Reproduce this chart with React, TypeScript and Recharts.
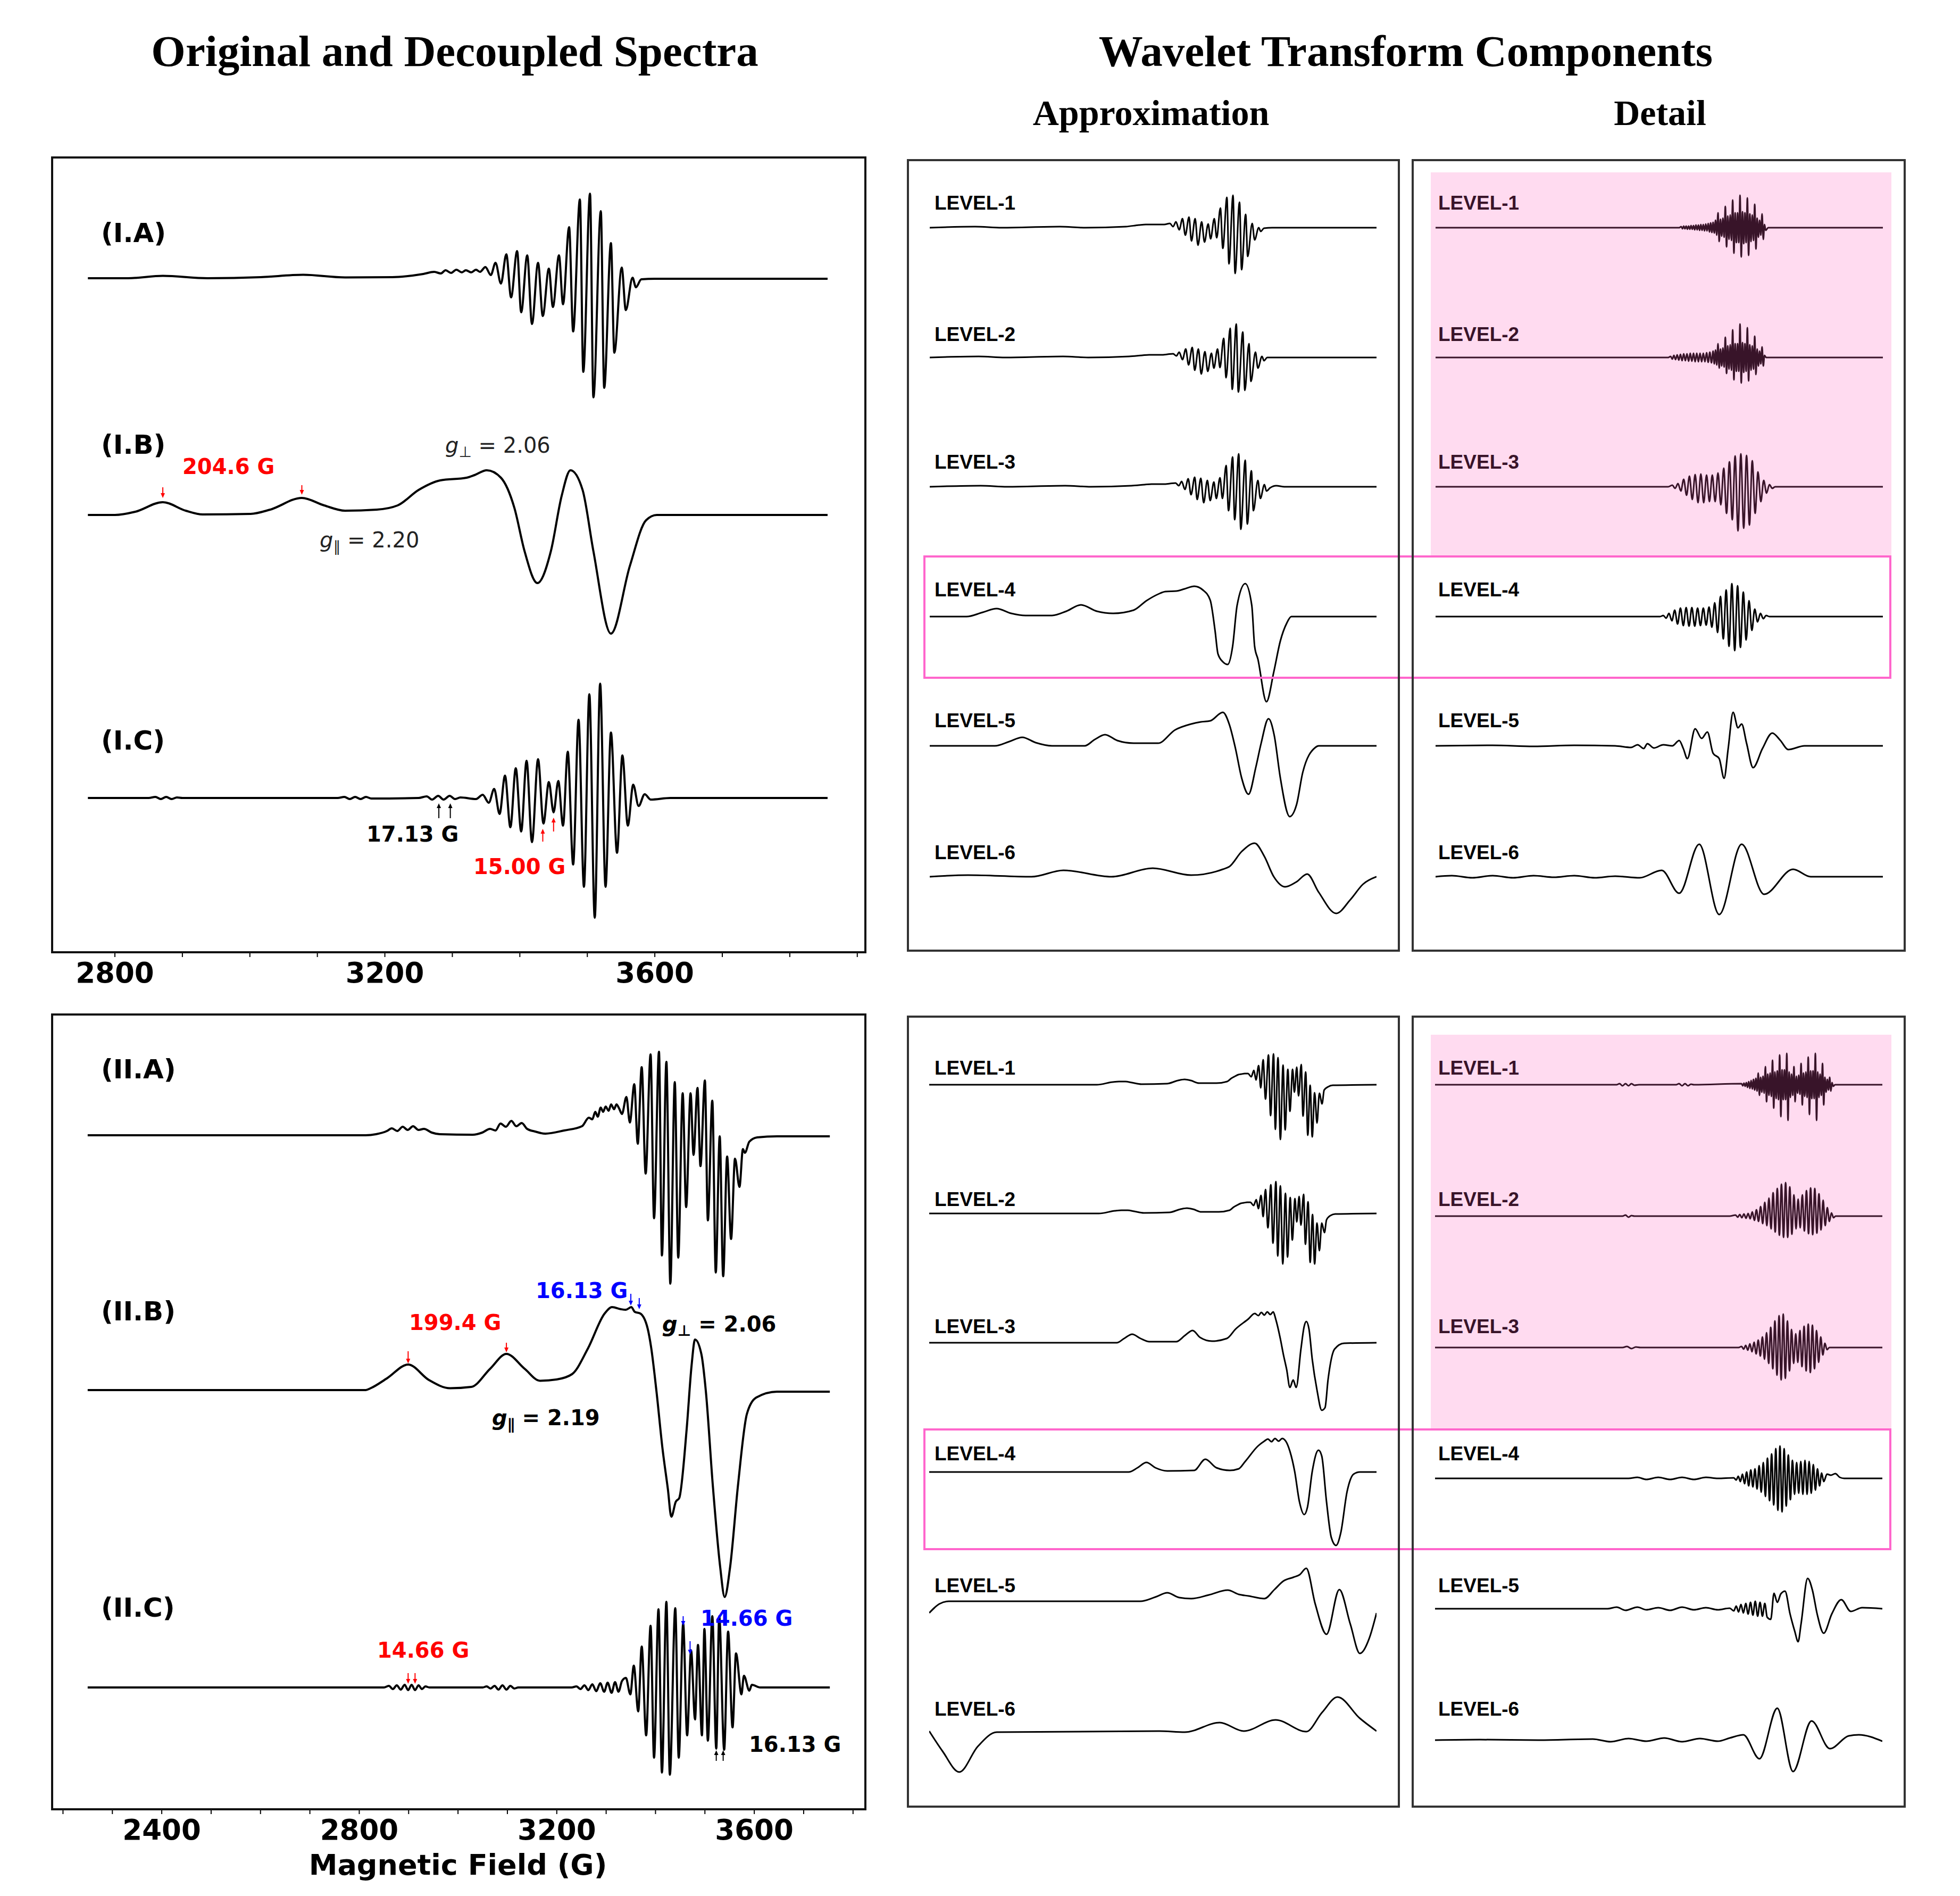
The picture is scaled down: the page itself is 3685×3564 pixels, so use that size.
import React from 'react'
import { LineChart, Line, XAxis, YAxis, ReferenceDot } from 'recharts'

// magnetic field (G): axis ranges and the span covered by the data
const FIELD_I: [number, number] = [2707, 3912]
const FIELD_II: [number, number] = [2178, 3825]
const SPAN_I: [number, number] = [2760, 3856]
const SPAN_II: [number, number] = [2250, 3753]
const TICKS_I = [2800, 2900, 3000, 3100, 3200, 3300, 3400, 3500, 3600, 3700, 3800, 3900]
const TICKS_II = [2200, 2300, 2400, 2500, 2600, 2700, 2800, 2900, 3000, 3100, 3200, 3300, 3400, 3500, 3600, 3700, 3800]
const LEVELS = ['LEVEL-1', 'LEVEL-2', 'LEVEL-3', 'LEVEL-4', 'LEVEL-5', 'LEVEL-6']

// spectra, pairs of [field G, intensity a.u.]
const spectrumIA = [2760,0, 2820,0, 2871,4.5, 2937,0, 3016,2, 3079,6.5, 3141,1.5, 3211,2, 3241,5, 3257,8, 3273,12, 3283,9, 3290,15, 3298,10, 3306,16, 3314,11, 3320,15, 3328,11, 3335,16, 3341,12, 3349,21, 3357,6, 3364,29, 3372,-10, 3380,45, 3387,-36, 3396,51, 3402,-64, 3411,43, 3418,-86, 3427,29, 3434,-71, 3443,18, 3449,-54, 3458,43, 3464,-49, 3473,96, 3479,-100, 3489,148, 3494,-176, 3504,159, 3509,-224, 3520,126, 3525,-206, 3535,66, 3540,-140, 3551,20, 3557,-60, 3567,1, 3572,-17, 3580,-2, 3600,-1, 3856,-1]
const spectrumIB = [2760,0, 2800,0, 2830,6, 2871,24, 2905,8, 2930,1, 3001,2, 3030,10, 3077,32, 3110,18, 3141,8, 3188,10, 3219,18, 3250,47, 3282,65, 3321,70, 3333,75, 3351,84, 3372,70, 3392,13, 3407,-68, 3426,-128, 3446,-68, 3462,36, 3475,84, 3493,47, 3509,-68, 3535,-223, 3563,-96, 3587,-10, 3603,0, 3856,0]
const spectrumIC = [2760,0, 2850,0, 2860,2, 2868,-2, 2876,2, 2884,-2, 2892,1, 2900,0, 3130,0, 3140,2, 3148,-2, 3156,2, 3164,-2, 3172,2, 3180,-1, 3250,0, 3262,3, 3270,-3, 3279,4, 3287,-3, 3296,4, 3304,-2, 3312,1, 3335,-2, 3345,6, 3354,-9, 3362,17, 3370,-30, 3378,42, 3386,-55, 3394,56, 3402,-63, 3410,70, 3418,-83, 3427,73, 3435,-48, 3443,30, 3450,-27, 3457,32, 3464,-52, 3471,87, 3479,-125, 3487,147, 3495,-167, 3503,195, 3511,-225, 3519,215, 3527,-167, 3535,123, 3544,-103, 3552,80, 3560,-52, 3568,25, 3576,-15, 3585,7, 3594,-3, 3623,0, 3856,0]
const spectrumIIA = [2250,0, 2813,0, 2834,2, 2856,8, 2866,13, 2877,8, 2888,16, 2898,10, 2909,17, 2920,10, 2931,12, 2947,5, 2963,2, 3030,1, 3049,5, 3065,12, 3076,9, 3086,22, 3097,16, 3108,27, 3118,17, 3129,23, 3140,12, 3156,7, 3177,3, 3215,9, 3251,17, 3265,33, 3272,30, 3278,44, 3283,35, 3289,52, 3294,44, 3299,54, 3305,46, 3310,58, 3316,49, 3321,58, 3326,51, 3332,40, 3341,72, 3348,24, 3357,96, 3364,-16, 3372,128, 3380,-72, 3390,152, 3397,-156, 3407,157, 3413,-226, 3422,138, 3430,-279, 3439,100, 3446,-230, 3455,79, 3462,-135, 3471,79, 3477,-37, 3485,89, 3491,-58, 3500,103, 3506,-160, 3515,65, 3522,-258, 3530,-2, 3537,-265, 3545,-40, 3553,-195, 3561,-44, 3570,-97, 3577,-26, 3581,-33, 3590,-12, 3606,-4, 3646,-2, 3753,-2]
const spectrumIIB = [2250,0, 2813,0, 2823,3.5, 2856,22, 2899,48, 2941,19, 2984,3.5, 3027,6, 3065,40, 3098,68, 3135,40, 3166,17.5, 3200,20, 3231,30, 3263,78, 3297,144, 3312,156, 3330,152, 3340,151, 3351,156, 3358,147, 3369,144, 3384,116, 3391,81, 3402,-3, 3414,-109, 3425,-186, 3432,-238, 3441,-210, 3448,-203, 3463,-74, 3473,46, 3480,95, 3493,67, 3502,-3, 3516,-179, 3531,-333, 3540,-389, 3551,-333, 3567,-179, 3585,-45, 3604,-14, 3646,-3, 3753,-3]
const spectrumIIC = [2250,0, 2850,0, 2860,3, 2868,-3, 2876,4, 2884,-4, 2892,5, 2899,-5, 2906,5, 2913,-5, 2920,4, 2927,-3, 2934,2, 2942,0, 3050,0, 3058,2, 3066,-2, 3074,3, 3082,-4, 3090,4, 3098,-4, 3106,3, 3114,-2, 3122,0, 3230,0, 3240,2, 3248,-3, 3256,4, 3264,-5, 3272,6, 3280,-7, 3288,8, 3296,-8, 3303,9, 3311,-10, 3318,10, 3325,-8, 3332,12, 3340,18, 3349,-13, 3356,41, 3365,-45, 3372,77, 3381,-90, 3390,116, 3397,-132, 3406,147, 3413,-160, 3422,161, 3429,-164, 3440,149, 3447,-132, 3456,120, 3464,-90, 3472,70, 3480,-60, 3486,80, 3494,-90, 3499,110, 3506,-100, 3515,134, 3523,-115, 3529,134, 3539,-117, 3547,105, 3556,-75, 3563,64, 3574,-13, 3579,22, 3590,-6, 3595,5, 3612,0, 3753,0]

// wavelet approximations, sample I
const approxI1 = [2760,0, 2871,2, 2937,0, 3079,2, 3141,0, 3241,2, 3273,5, 3290,6, 3306,6, 3320,6, 3335,6, 3349,8, 3357,2, 3364,11, 3372,-4, 3380,17, 3387,-14, 3396,20, 3402,-25, 3411,17, 3418,-33, 3427,11, 3434,-27, 3443,7, 3449,-21, 3458,17, 3464,-19, 3473,37, 3479,-39, 3489,57, 3494,-68, 3504,61, 3509,-86, 3520,48, 3525,-79, 3535,25, 3540,-54, 3551,8, 3557,-23, 3567,0, 3572,-7, 3580,-1, 3600,0, 3856,0]
const approxI2 = [2760,0, 2880,2, 2945,0, 3087,2, 3149,0, 3249,2, 3281,4, 3298,5, 3314,5, 3328,5, 3343,6, 3357,7, 3365,3, 3372,10, 3380,-4, 3388,16, 3395,-14, 3404,19, 3410,-24, 3419,16, 3426,-31, 3435,11, 3442,-26, 3451,8, 3457,-20, 3466,16, 3472,-19, 3481,36, 3487,-38, 3497,55, 3502,-60, 3512,63, 3517,-65, 3528,48, 3533,-62, 3543,26, 3548,-45, 3559,10, 3565,-20, 3575,2, 3580,-6, 3588,0, 3610,0, 3856,0]
const approxI3 = [2760,0, 2885,2, 2950,0, 3092,2, 3155,0, 3255,2, 3287,4, 3304,5, 3320,5, 3334,5, 3349,6, 3363,7, 3371,2, 3378,10, 3386,-5, 3394,15, 3401,-15, 3410,18, 3416,-24, 3425,16, 3432,-30, 3441,12, 3448,-26, 3457,9, 3463,-22, 3472,17, 3478,-22, 3487,40, 3493,-45, 3503,56, 3508,-62, 3518,62, 3523,-80, 3534,50, 3539,-70, 3549,30, 3554,-45, 3565,12, 3571,-22, 3581,4, 3586,-8, 3595,-2, 3610,2, 3630,0, 3856,0]
const approxI4 = [2760,0, 2850,0, 2890,8, 2924,15, 2960,6, 2995,2, 3060,2, 3095,10, 3131,22, 3170,10, 3210,6, 3260,12, 3292,30, 3320,42, 3338,47, 3365,48, 3385,52, 3409,57, 3430,50, 3448,31, 3460,-27, 3467,-70, 3479,-85, 3491,-90, 3503,-56, 3514,21, 3534,62, 3550,21, 3557,-56, 3565,-80, 3586,-160, 3604,-104, 3620,-46, 3636,-12, 3647,0, 3856,0]
const approxI5 = [2760,0, 2920,0, 2955,8, 2987,16, 3020,6, 3060,0, 3140,0, 3165,12, 3190,21, 3220,10, 3260,5, 3320,5, 3362,30, 3401,41, 3425,45, 3448,47, 3479,63, 3495,40, 3510,-5, 3525,-60, 3542,-91, 3560,-40, 3573,5, 3591,51, 3605,20, 3620,-60, 3643,-133, 3660,-110, 3675,-50, 3706,-3, 3714,0, 3856,0]
const approxI6 = [2760,0, 2854,3, 3010,0, 3088,12, 3206,0, 3307,16, 3401,3, 3479,14, 3495,19, 3526,48, 3557,63, 3581,38, 3604,0, 3632,-19, 3659,-10, 3686,5, 3714,-29, 3757,-69, 3792,-43, 3823,-14, 3856,0]

// wavelet details, sample I
const detailI1 = [2760,0, 3357,0, 3362,2, 3365,-2, 3368,3, 3371,-2, 3374,3, 3377,-3, 3380,3, 3383,-3, 3386,4, 3389,-3, 3392,4, 3395,-4, 3398,5, 3401,-4, 3404,5, 3407,-5, 3410,6, 3413,-5, 3416,6, 3419,-6, 3422,7, 3425,-6, 3428,8, 3431,-8, 3434,9, 3437,-9, 3440,10, 3443,-10, 3446,14, 3449,-14, 3452,28, 3455,-26, 3458,16, 3461,-16, 3464,18, 3467,-18, 3470,40, 3473,-36, 3476,22, 3479,-22, 3482,24, 3485,-24, 3488,52, 3491,-48, 3494,28, 3497,-28, 3500,28, 3503,-28, 3506,61, 3509,-55, 3512,30, 3515,-30, 3518,28, 3521,-28, 3524,56, 3527,-52, 3530,26, 3533,-26, 3536,24, 3539,-24, 3542,44, 3545,-40, 3548,18, 3551,-18, 3554,14, 3557,-14, 3560,26, 3563,-22, 3566,6, 3569,-5, 3575,0, 3856,0]
const detailI2 = [2760,0, 3330,0, 3336,2, 3340,-3, 3344,4, 3348,-4, 3352,5, 3356,-5, 3360,6, 3364,-6, 3368,7, 3372,-6, 3376,7, 3380,-7, 3384,8, 3388,-7, 3392,8, 3396,-8, 3400,8, 3404,-8, 3408,8, 3412,-8, 3416,8, 3420,-8, 3424,9, 3428,-9, 3432,10, 3436,-10, 3440,12, 3443,-12, 3446,14, 3449,-14, 3452,26, 3455,-20, 3458,16, 3461,-16, 3464,18, 3467,-18, 3470,38, 3473,-30, 3476,22, 3479,-22, 3482,24, 3485,-24, 3488,52, 3491,-42, 3494,26, 3497,-26, 3500,26, 3503,-26, 3506,63, 3509,-48, 3512,28, 3515,-28, 3518,26, 3521,-26, 3524,56, 3527,-44, 3530,24, 3533,-24, 3536,22, 3539,-22, 3542,40, 3545,-32, 3548,16, 3551,-16, 3554,12, 3557,-12, 3560,20, 3563,-16, 3566,4, 3570,0, 3856,0]
const detailI3 = [2760,0, 3330,0, 3340,3, 3347,-3, 3354,6, 3361,-8, 3368,14, 3375,-16, 3382,20, 3389,-24, 3396,23, 3403,-30, 3410,24, 3417,-30, 3424,22, 3431,-28, 3438,22, 3445,-28, 3452,26, 3459,-34, 3466,35, 3473,-50, 3480,47, 3487,-62, 3494,58, 3501,-83, 3508,62, 3515,-78, 3522,59, 3529,-72, 3536,49, 3543,-50, 3550,28, 3557,-28, 3564,12, 3571,-12, 3578,4, 3585,-3, 3592,0, 3856,0]
const detailI4 = [2760,0, 3310,0, 3318,2, 3325,-3, 3332,6, 3339,-8, 3346,12, 3353,-14, 3360,16, 3367,-17, 3374,17, 3381,-18, 3388,17, 3395,-18, 3402,16, 3409,-17, 3416,16, 3423,-16, 3430,18, 3437,-20, 3444,26, 3451,-30, 3458,38, 3465,-42, 3472,50, 3479,-56, 3486,62, 3493,-64, 3500,58, 3507,-58, 3514,46, 3521,-44, 3528,30, 3535,-26, 3542,14, 3549,-10, 3556,6, 3563,-4, 3570,2, 3578,0, 3856,0]
const detailI5 = [2760,0, 2900,1, 3000,-1, 3100,1, 3200,0, 3239,-3, 3255,2, 3270,-5, 3279,4, 3295,-4, 3318,2, 3340,0, 3357,10, 3367,-5, 3377,-24, 3396,32, 3412,14, 3426,26, 3440,-14, 3455,-24, 3467,-61, 3477,-5, 3489,63, 3501,34, 3510,41, 3522,5, 3538,-41, 3561,-5, 3585,24, 3605,10, 3624,-7, 3664,0, 3856,0]
const detailI6 = [2760,0, 2800,2, 2850,-2, 2900,2, 2950,-2, 3000,2, 3050,-1, 3100,2, 3150,-2, 3200,1, 3260,-2, 3314,12, 3357,-31, 3406,61, 3455,-71, 3510,61, 3565,-33, 3636,14, 3679,0, 3856,0]

// wavelet approximations, sample II
const approxII1 = [2250,0, 2813,0, 2866,5, 2888,6, 2909,6, 2931,4, 2963,1, 3049,2, 3086,8, 3108,10, 3129,8, 3156,3, 3215,3, 3251,6, 3265,12, 3278,16, 3289,19, 3299,20, 3310,21, 3321,21, 3332,15, 3341,27, 3348,9, 3357,36, 3364,-6, 3372,47, 3380,-27, 3390,56, 3397,-58, 3407,58, 3413,-84, 3422,51, 3430,-103, 3439,37, 3446,-85, 3455,29, 3462,-50, 3471,29, 3477,-14, 3485,33, 3491,-21, 3500,38, 3506,-59, 3515,24, 3522,-95, 3530,-1, 3537,-98, 3545,-15, 3553,-72, 3561,-16, 3570,-36, 3577,-10, 3590,-4, 3606,-1, 3753,0]
const approxII2 = [2250,0, 2820,0, 2874,5, 2896,6, 2917,6, 2939,4, 2971,1, 3057,2, 3094,8, 3116,10, 3137,8, 3164,3, 3223,3, 3259,6, 3273,12, 3286,16, 3297,19, 3307,20, 3318,21, 3329,21, 3340,15, 3349,26, 3356,9, 3365,34, 3372,-6, 3380,45, 3388,-27, 3398,54, 3405,-56, 3415,60, 3421,-80, 3430,52, 3438,-95, 3447,38, 3454,-82, 3463,30, 3470,-50, 3479,28, 3485,-16, 3493,32, 3499,-22, 3508,36, 3514,-58, 3523,22, 3530,-92, 3538,-2, 3545,-95, 3553,-18, 3561,-70, 3569,-18, 3578,-36, 3585,-12, 3598,-4, 3614,-1, 3753,0]
const approxII3 = [2250,0, 2880,0, 2905,8, 2932,16, 2960,8, 2990,2, 3080,2, 3110,14, 3135,23, 3160,10, 3200,3, 3250,8, 3280,26, 3323,45, 3344,55, 3356,51, 3366,57, 3376,52, 3386,58, 3396,53, 3406,58, 3414,45, 3430,7, 3440,-22, 3451,-50, 3462,-84, 3473,-70, 3483,-84, 3499,-12, 3510,31, 3517,40, 3526,26, 3537,-31, 3553,-89, 3569,-127, 3580,-122, 3590,-70, 3612,-12, 3644,-1, 3753,0]
const approxII4 = [2250,0, 2920,0, 2950,8, 2980,18, 3010,8, 3050,2, 3140,3, 3178,24, 3215,8, 3260,3, 3290,6, 3312,20, 3355,49, 3376,58, 3388,62, 3400,57, 3412,63, 3424,58, 3436,63, 3448,58, 3462,39, 3478,1, 3494,-56, 3510,-80, 3521,-66, 3537,1, 3558,41, 3569,30, 3585,-56, 3601,-123, 3617,-138, 3633,-114, 3654,-37, 3676,-4, 3697,0, 3753,0]
const approxII5 = [2250,-22, 2268,-12, 2284,-5, 2316,0, 2959,0, 3010,8, 3050,16, 3090,7, 3130,5, 3190,12, 3253,21, 3290,13, 3323,10, 3376,5, 3410,22, 3440,38, 3473,45, 3495,50, 3517,62, 3547,-5, 3585,-62, 3628,22, 3665,-43, 3697,-98, 3729,-69, 3753,-22]
const approxII6 = [2250,0, 2295,-38, 2351,-77, 2413,-29, 2477,-2, 3023,0, 3109,-2, 3226,16, 3307,0, 3414,21, 3517,-1, 3570,35, 3622,64, 3697,24, 3753,0]

// wavelet details, sample II
const detailII1 = [2250,0, 2860,0, 2870,2, 2880,-2, 2890,2, 2900,-2, 2910,2, 2920,-1, 2935,0, 3060,0, 3070,2, 3080,-2, 3090,2, 3100,-2, 3110,1, 3120,0, 3280,2, 3284,-2, 3288,3, 3292,-3, 3296,4, 3300,-5, 3304,6, 3308,-7, 3312,8, 3316,-8, 3320,10, 3324,-10, 3328,12, 3332,-12, 3336,22, 3340,-20, 3344,14, 3348,-14, 3352,16, 3356,-16, 3360,34, 3364,-32, 3368,20, 3372,-20, 3376,22, 3380,-22, 3384,46, 3388,-44, 3392,24, 3396,-26, 3400,26, 3404,-28, 3408,56, 3412,-60, 3416,28, 3420,-28, 3424,28, 3428,-28, 3432,59, 3436,-67, 3440,24, 3444,-24, 3448,20, 3452,-20, 3456,34, 3460,-32, 3464,16, 3468,-16, 3472,18, 3476,-18, 3480,40, 3484,-38, 3488,22, 3492,-22, 3496,24, 3500,-24, 3504,52, 3508,-56, 3512,26, 3516,-26, 3520,26, 3524,-26, 3528,59, 3532,-67, 3536,24, 3540,-24, 3544,20, 3548,-20, 3552,40, 3556,-38, 3560,14, 3564,-14, 3568,10, 3572,-10, 3576,14, 3580,-12, 3584,4, 3588,-3, 3594,0, 3753,0]
const detailII2 = [2250,0, 2880,0, 2890,2, 2900,-2, 2910,1, 2920,0, 3240,0, 3260,2, 3267,-2, 3274,3, 3281,-3, 3288,4, 3295,-4, 3302,5, 3309,-5, 3316,8, 3323,-8, 3330,12, 3337,-10, 3344,18, 3351,-14, 3358,26, 3365,-18, 3372,34, 3379,-24, 3386,44, 3393,-30, 3400,52, 3407,-36, 3414,60, 3421,-40, 3428,63, 3435,-40, 3442,55, 3449,-34, 3456,40, 3463,-24, 3470,32, 3477,-22, 3484,40, 3491,-28, 3498,48, 3505,-33, 3512,53, 3519,-35, 3526,52, 3533,-32, 3540,42, 3547,-26, 3554,30, 3561,-18, 3568,16, 3575,-10, 3582,6, 3589,-3, 3596,0, 3753,0]
const detailII3 = [2250,0, 2880,0, 2895,2, 2910,-2, 2925,1, 2940,0, 3270,0, 3280,2, 3287,-3, 3294,4, 3301,-5, 3308,7, 3315,-8, 3322,10, 3329,-12, 3336,14, 3343,-16, 3350,20, 3357,-22, 3364,28, 3371,-30, 3378,38, 3385,-40, 3392,50, 3399,-52, 3406,60, 3413,-61, 3420,63, 3427,-58, 3434,50, 3441,-44, 3448,34, 3455,-30, 3462,26, 3469,-28, 3476,32, 3483,-36, 3490,40, 3497,-44, 3504,44, 3511,-47, 3518,42, 3525,-40, 3532,32, 3539,-28, 3546,20, 3553,-14, 3560,8, 3567,-4, 3575,0, 3753,0]
const detailII4 = [2250,0, 2900,0, 2930,2, 2960,-2, 3000,2, 3040,-2, 3080,2, 3120,-2, 3160,2, 3200,0, 3254,1, 3262,-3, 3269,4, 3276,-6, 3283,8, 3290,-10, 3297,12, 3304,-14, 3311,16, 3318,-16, 3325,18, 3332,-20, 3339,24, 3346,-26, 3353,30, 3360,-34, 3367,38, 3374,-42, 3381,46, 3388,-50, 3395,56, 3402,-60, 3409,61, 3416,-63, 3423,56, 3430,-52, 3437,44, 3444,-40, 3451,34, 3458,-30, 3465,30, 3472,-28, 3479,32, 3486,-30, 3493,34, 3500,-30, 3507,32, 3514,-28, 3521,26, 3528,-22, 3535,18, 3542,-14, 3549,10, 3556,-6, 3567,8, 3580,6, 3595,9, 3610,2, 3625,0, 3753,0]
const detailII5 = [2250,0, 2830,0, 2860,3, 2890,-3, 2930,3, 2960,-2, 3000,2, 3040,-3, 3080,3, 3120,-2, 3160,2, 3200,-2, 3240,1, 3254,-4, 3262,5, 3270,-6, 3278,8, 3286,-8, 3294,10, 3302,-10, 3310,12, 3318,-12, 3326,14, 3334,-14, 3342,12, 3350,-14, 3358,10, 3366,-16, 3378,-20, 3389,29, 3400,12, 3412,28, 3426,33, 3443,-10, 3459,-43, 3470,-62, 3480,-28, 3502,57, 3518,35, 3534,-10, 3556,-46, 3583,-10, 3615,17, 3647,-5, 3685,2, 3753,0]
const detailII6 = [2250,0, 2400,1, 2600,0, 2780,2, 2840,-3, 2900,3, 2960,-2, 3020,4, 3080,-3, 3140,3, 3200,-2, 3240,4, 3286,10, 3340,-35, 3400,60, 3453,-59, 3515,36, 3577,-16, 3640,8, 3674,10, 3753,-2]

const APPROX_I = [approxI1, approxI2, approxI3, approxI4, approxI5, approxI6]
const DETAIL_I = [detailI1, detailI2, detailI3, detailI4, detailI5, detailI6]
const APPROX_II = [approxII1, approxII2, approxII3, approxII4, approxII5, approxII6]
const DETAIL_II = [detailII1, detailII2, detailII3, detailII4, detailII5, detailII6]

const toPoints = (a: number[]) => {
  const out: { x: number; y: number }[] = []
  for (let i = 0; i < a.length; i += 2) out.push({ x: a[i], y: a[i + 1] })
  return out
}

const SANS = 'DejaVu Sans, sans-serif'
const PLOT_H = 1494

type Mark = { id: string; x: number; y: number; dir: 1 | -1; len: number; color: string }

// small arrow, tip at (cx, cy); dir 1 points down, -1 points up
function arrow(cx: number, cy: number, dir: number, len: number, color: string) {
  const h = 9
  return (
    <g>
      <line x1={cx} y1={cy - dir * len} x2={cx} y2={cy - dir * (h - 1)} stroke={color} strokeWidth={2} />
      <polygon points={`${cx},${cy} ${cx - 4},${cy - dir * h} ${cx + 4},${cy - dir * h}`} fill={color} />
    </g>
  )
}

function SpectraPanel({ top, domain, ticks, traces, marks }: {
  top: number
  domain: [number, number]
  ticks: number[]
  traces: { id: string; data: number[]; base: number }[]
  marks: Mark[]
}) {
  return (
    <div style={{ position: 'absolute', left: 98, top }}>
      <LineChart width={1529} height={PLOT_H + 90} margin={{ top: 0, right: 0, bottom: 0, left: 0 }}>
        <XAxis
          dataKey="x"
          type="number"
          domain={domain}
          allowDataOverflow
          ticks={ticks}
          interval={0}
          height={90}
          tickFormatter={(v: number) => (v % 400 === 0 ? String(v) : '')}
          axisLine={false}
          tickSize={9}
          tickMargin={10}
          tick={{ fontSize: 53, fontWeight: 700, fontFamily: SANS, fill: '#000' }}
          tickLine={{ stroke: '#000', strokeWidth: 2 }}
        />
        {traces.map((t) => (
          <YAxis key={'y' + t.id} yAxisId={t.id} hide type="number" domain={[t.base - PLOT_H, t.base]} allowDataOverflow />
        ))}
        {traces.map((t) => (
          <Line
            key={'l' + t.id}
            yAxisId={t.id}
            data={toPoints(t.data)}
            dataKey="y"
            type="monotone"
            stroke="#000"
            strokeWidth={4}
            dot={false}
            isAnimationActive={false}
          />
        ))}
        {marks.map((m, i) => (
          <ReferenceDot
            key={'m' + i}
            yAxisId={m.id}
            x={m.x}
            y={m.y}
            shape={(p: any) => arrow(p.cx, p.cy, m.dir, m.len, m.color)}
          />
        ))}
      </LineChart>
    </div>
  )
}

function Trace({ left, base, span, data, width }: { left: number; base: number; span: [number, number]; data: number[]; width: number }) {
  return (
    <div style={{ position: 'absolute', left, top: base - 200 }}>
      <LineChart width={width} height={400} data={toPoints(data)} margin={{ top: 0, right: 0, bottom: 0, left: 0 }}>
        <XAxis dataKey="x" type="number" domain={span} hide allowDataOverflow />
        <YAxis type="number" domain={[-200, 200]} hide allowDataOverflow />
        <Line dataKey="y" type="monotone" stroke="#000" strokeWidth={3} dot={false} isAnimationActive={false} />
      </LineChart>
    </div>
  )
}

function Text({ x, y, size, children, color = '#000', weight = 700, family = SANS, center = false }: any) {
  const style: React.CSSProperties = {
    position: 'absolute',
    top: y - size * 0.5,
    fontSize: size,
    lineHeight: 1,
    fontWeight: weight,
    fontFamily: family,
    color,
    whiteSpace: 'nowrap',
  }
  if (center) {
    style.left = x - 1000
    style.width = 2000
    style.textAlign = 'center'
  } else style.left = x
  return <div style={style}>{children}</div>
}

function Frame({ x1, y1, x2, y2, color = '#222', w = 4 }: any) {
  return (
    <div
      style={{
        position: 'absolute',
        left: x1 - w / 2,
        top: y1 - w / 2,
        width: x2 - x1 + w,
        height: y2 - y1 + w,
        border: `${w}px solid ${color}`,
        boxSizing: 'border-box',
      }}
    />
  )
}

const gPerp = (
  <>
    <i>g</i>
    <span style={{ fontSize: '0.7em', position: 'relative', top: '0.3em' }}>⊥</span> = 2.06
  </>
)

export default function App() {
  const approxTopBases = [428, 672, 915, 1159, 1402, 1648]
  const approxTopLabels = [381, 628, 868, 1108, 1354, 1602]
  const approxBotBases = [2039, 2281, 2524, 2767, 3010, 3254]
  const detailBotBases = [2039, 2286, 2533, 2779, 3024, 3271]
  const botLabels = [2007, 2254, 2493, 2732, 2980, 3212]

  const marksI: Mark[] = [
    { id: 'b', x: 2871, y: 32, dir: 1, len: 20, color: '#ff0000' },
    { id: 'b', x: 3077, y: 38, dir: 1, len: 18, color: '#ff0000' },
    { id: 'c', x: 3280, y: -10, dir: -1, len: 28, color: '#000' },
    { id: 'c', x: 3297, y: -10, dir: -1, len: 28, color: '#000' },
    { id: 'c', x: 3434, y: -58, dir: -1, len: 24, color: '#ff0000' },
    { id: 'c', x: 3450, y: -37, dir: -1, len: 26, color: '#ff0000' },
  ]
  const marksII: Mark[] = [
    { id: 'b', x: 2899, y: 50, dir: 1, len: 23, color: '#ff0000' },
    { id: 'b', x: 3098, y: 71, dir: 1, len: 18, color: '#ff0000' },
    { id: 'b', x: 3350, y: 159, dir: 1, len: 22, color: '#0000ff' },
    { id: 'b', x: 3367, y: 152, dir: 1, len: 21, color: '#0000ff' },
    { id: 'c', x: 2899, y: 7, dir: 1, len: 20, color: '#ff0000' },
    { id: 'c', x: 2913, y: 7, dir: 1, len: 20, color: '#ff0000' },
    { id: 'c', x: 3456, y: 116, dir: 1, len: 18, color: '#0000ff' },
    { id: 'c', x: 3470, y: 62, dir: 1, len: 25, color: '#0000ff' },
    { id: 'c', x: 3523, y: -118, dir: -1, len: 20, color: '#000' },
    { id: 'c', x: 3537, y: -118, dir: -1, len: 20, color: '#000' },
  ]

  return (
    <div style={{ position: 'relative', width: 3685, height: 3564, background: '#fff', overflow: 'hidden' }}>
      <style>{'body{margin:0}'}</style>

      {/* headings */}
      <div style={{ position: 'absolute', left: 55, top: 55, width: 1600, textAlign: 'center', fontFamily: 'Liberation Serif, serif', fontWeight: 700, fontSize: 83, lineHeight: 1 }}>
        Original and Decoupled Spectra
      </div>
      <div style={{ position: 'absolute', left: 1843, top: 55, width: 1600, textAlign: 'center', fontFamily: 'Liberation Serif, serif', fontWeight: 700, fontSize: 83, lineHeight: 1 }}>
        Wavelet Transform Components
      </div>
      <div style={{ position: 'absolute', left: 1664, top: 178, width: 1000, textAlign: 'center', fontFamily: 'Liberation Serif, serif', fontWeight: 700, fontSize: 68, lineHeight: 1 }}>
        Approximation
      </div>
      <div style={{ position: 'absolute', left: 2621, top: 178, width: 1000, textAlign: 'center', fontFamily: 'Liberation Serif, serif', fontWeight: 700, fontSize: 68, lineHeight: 1 }}>
        Detail
      </div>

      {/* left: original and decoupled spectra */}
      <SpectraPanel
        top={296}
        domain={FIELD_I}
        ticks={TICKS_I}
        traces={[
          { id: 'a', data: spectrumIA, base: 227 },
          { id: 'b', data: spectrumIB, base: 672 },
          { id: 'c', data: spectrumIC, base: 1204 },
        ]}
        marks={marksI}
      />
      <SpectraPanel
        top={1907}
        domain={FIELD_II}
        ticks={TICKS_II}
        traces={[
          { id: 'a', data: spectrumIIA, base: 227 },
          { id: 'b', data: spectrumIIB, base: 706 },
          { id: 'c', data: spectrumIIC, base: 1265 },
        ]}
        marks={marksII}
      />
      <Frame x1={98} y1={296} x2={1627} y2={1790} color="#111" />
      <Frame x1={98} y1={1907} x2={1627} y2={3401} color="#111" />

      <Text x={190} y={438} size={50}>(I.A)</Text>
      <Text x={190} y={836} size={50}>(I.B)</Text>
      <Text x={190} y={1392} size={50}>(I.C)</Text>
      <Text x={190} y={2010} size={50}>(II.A)</Text>
      <Text x={190} y={2465} size={50}>(II.B)</Text>
      <Text x={190} y={3022} size={50}>(II.C)</Text>

      <Text x={343} y={877} size={40} color="#ff0000">204.6 G</Text>
      <Text x={837} y={837} size={40} weight={400} color="#222">{gPerp}</Text>
      <Text x={601} y={1015} size={40} weight={400} color="#222">
        <i>g</i>
        <span style={{ fontSize: '0.7em', position: 'relative', top: '0.3em' }}>∥</span> = 2.20
      </Text>
      <Text x={689} y={1568} size={40}>17.13 G</Text>
      <Text x={890} y={1629} size={40} color="#ff0000">15.00 G</Text>

      <Text x={1007} y={2426} size={40} color="#0000ff">16.13 G</Text>
      <Text x={769} y={2486} size={40} color="#ff0000">199.4 G</Text>
      <Text x={1245} y={2489} size={40}>{gPerp}</Text>
      <Text x={925} y={2665} size={40}>
        <i>g</i>
        <span style={{ fontSize: '0.7em', position: 'relative', top: '0.3em' }}>∥</span> = 2.19
      </Text>
      <Text x={709} y={3102} size={40} color="#ff0000">14.66 G</Text>
      <Text x={1317} y={3042} size={40} color="#0000ff">14.66 G</Text>
      <Text x={1408} y={3279} size={40}>16.13 G</Text>
      <Text x={861} y={3506} size={54} center>Magnetic Field (G)</Text>

      {/* right: wavelet components */}
      {APPROX_I.map((d, i) => (
        <Trace key={'ai' + i} left={1748} width={840} base={approxTopBases[i]} span={SPAN_I} data={d} />
      ))}
      {DETAIL_I.map((d, i) => (
        <Trace key={'di' + i} left={2699} width={841} base={approxTopBases[i]} span={SPAN_I} data={d} />
      ))}
      {APPROX_II.map((d, i) => (
        <Trace key={'aii' + i} left={1747} width={841} base={approxBotBases[i]} span={SPAN_II} data={d} />
      ))}
      {DETAIL_II.map((d, i) => (
        <Trace key={'dii' + i} left={2698} width={841} base={detailBotBases[i]} span={SPAN_II} data={d} />
      ))}
      {LEVELS.map((l, i) => (
        <React.Fragment key={l}>
          <Text x={1757} y={approxTopLabels[i]} size={37} family="Liberation Sans, Arial, sans-serif">{l}</Text>
          <Text x={2704} y={approxTopLabels[i]} size={37} family="Liberation Sans, Arial, sans-serif">{l}</Text>
          <Text x={1757} y={botLabels[i]} size={37} family="Liberation Sans, Arial, sans-serif">{l}</Text>
          <Text x={2704} y={botLabels[i]} size={37} family="Liberation Sans, Arial, sans-serif">{l}</Text>
        </React.Fragment>
      ))}

      {/* pink highlight of the finest details */}
      <div style={{ position: 'absolute', left: 2690, top: 324, width: 866, height: 722, background: 'rgba(255,90,185,0.22)' }} />
      <div style={{ position: 'absolute', left: 2690, top: 1945, width: 866, height: 742, background: 'rgba(255,90,185,0.22)' }} />
      <Frame x1={1738} y1={1046} x2={3554} y2={1274} color="#ff66cc" />
      <Frame x1={1738} y1={2687} x2={3554} y2={2912} color="#ff66cc" />

      <Frame x1={1707} y1={301} x2={2630} y2={1787} color="#333" />
      <Frame x1={2656} y1={301} x2={3581} y2={1787} color="#333" />
      <Frame x1={1707} y1={1911} x2={2630} y2={3396} color="#333" />
      <Frame x1={2656} y1={1911} x2={3581} y2={3396} color="#333" />
    </div>
  )
}
